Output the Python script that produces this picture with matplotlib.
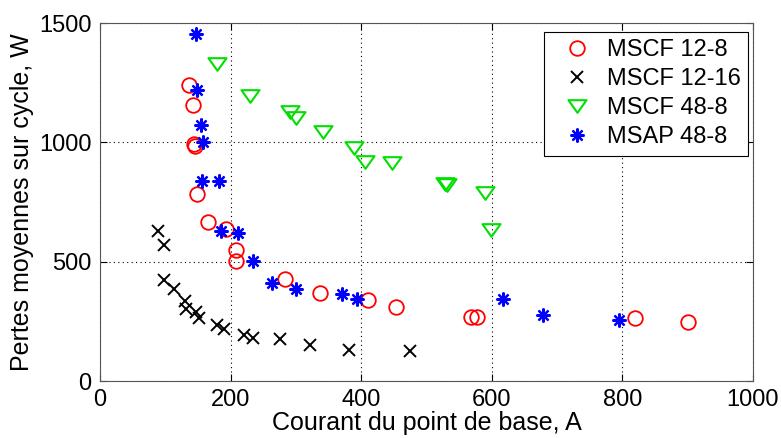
import numpy as np
import matplotlib
matplotlib.use("Agg")
import matplotlib.pyplot as plt
from matplotlib.path import Path

# MSCF 12-8 (red circles)
x_1208 = [137, 143, 144, 146, 149, 165, 193, 208, 208, 284, 337, 411, 454, 568, 577, 819, 900]
y_1208 = [1243, 1156, 992, 985, 785, 666, 638, 548, 502, 426, 370, 339, 309, 269, 269, 265, 248]
# MSCF 12-16 (black crosses)
x_1216 = [89, 98, 98, 114, 131, 132, 147, 152, 179, 190, 221, 235, 276, 322, 381, 475]
y_1216 = [631, 572, 423, 384, 335, 303, 289, 265, 233, 219, 191, 181, 177, 153, 132, 128]
# MSCF 48-8 (green triangles)
x_4808 = [180, 230, 291, 300, 341, 389, 406, 448, 529, 531, 590, 599]
y_4808 = [1327, 1196, 1127, 1103, 1043, 978, 917, 912, 827, 822, 789, 635]
# MSAP 48-8 (blue asterisks)
x_msap = [147, 149, 155, 158, 157, 183, 185, 212, 235, 264, 300, 370, 393, 617, 678, 795]
y_msap = [1453, 1218, 1075, 1001, 838, 838, 631, 621, 502, 412, 387, 367, 345, 342, 279, 258]

plt.rcParams['font.family'] = ['Liberation Sans', 'DejaVu Sans']

fig = plt.figure(figsize=(7.81, 4.38), dpi=100)
ax = fig.add_axes([0.128, 0.130, 0.836, 0.817])

# flatter downward triangle, like the MATLAB 'v'
tri = Path([(-1, 0.7), (1, 0.7), (0, -0.7), (-1, 0.7)],
           [Path.MOVETO, Path.LINETO, Path.LINETO, Path.CLOSEPOLY])

ax.plot(x_1208, y_1208, 'o', ls='none', mfc='none', mec='red', mew=1.3, ms=10.5, label='MSCF 12-8')
ax.plot(x_1216, y_1216, 'x', ls='none', color='black', mew=1.4, ms=8, label='MSCF 12-16')
ax.plot(x_4808, y_4808, marker=tri, ls='none', mfc='none', mec='#00e000', mew=1.5, ms=13, label='MSCF 48-8')
ax.plot(x_msap, y_msap, marker=(8, 2, 0), ls='none', color='blue', mew=1.6, ms=10, label='MSAP 48-8')

ax.set_xlim(0, 1000)
ax.set_ylim(0, 1500)
ax.set_xticks([0, 200, 400, 600, 800, 1000])
ax.set_yticks([0, 500, 1000, 1500])
ax.grid(True, ls=(0, (1, 3)), color='black', lw=0.8)
ax.tick_params(direction='in', top=True, right=True, length=5, pad=6)
for lab in ax.get_xticklabels() + ax.get_yticklabels():
    lab.set_family(['Liberation Sans Narrow', 'Liberation Sans'])
    lab.set_fontsize(17)
for s in ax.spines.values():
    s.set_color('#555555')
ax.set_xlabel('Courant du point de base, A', fontsize=18, labelpad=0)
ax.set_ylabel('Pertes moyennes sur cycle, W', fontsize=18, labelpad=4)

leg = ax.legend(loc='upper right', fontsize=17, fancybox=False, framealpha=1,
                edgecolor='black', handletextpad=0.15, borderpad=0.3,
                labelspacing=0.3, handlelength=2.2, borderaxespad=0,
                bbox_to_anchor=(0.992, 0.975))
leg.get_frame().set_linewidth(0.8)

fig.savefig('out.png', dpi=100)
